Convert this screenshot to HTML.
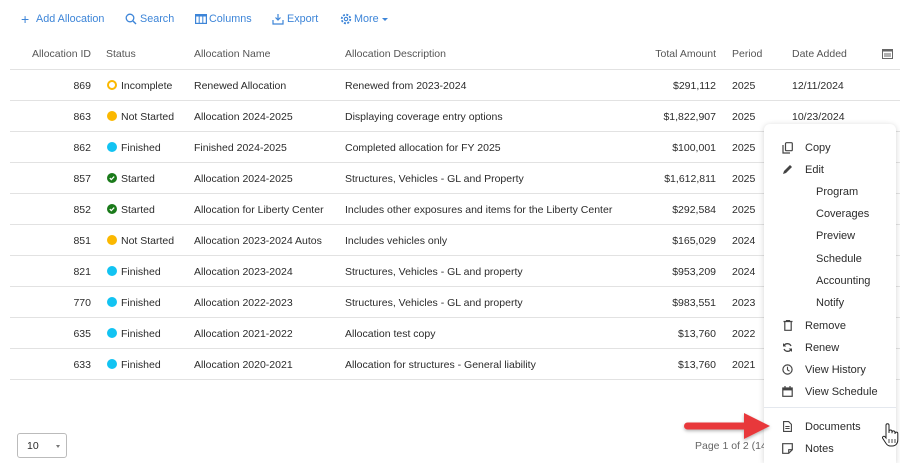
<!DOCTYPE html>
<html style="width:900px;height:463px;overflow:hidden"><head><meta charset="utf-8">
<style>
*{margin:0;padding:0;box-sizing:border-box}
body{width:900px;height:463px;background:#fff;font-family:"Liberation Sans",sans-serif;font-size:10.5px;color:#2b2b2b;position:relative;overflow:hidden}
.a{position:absolute;white-space:nowrap;line-height:14px}
.r{text-align:right}
.tb{color:#3d85d8;font-size:10.8px}
.hd{color:#555}
.line{position:absolute;left:10px;width:890px;height:1px;background:#e2e2e2}
.dot{position:absolute;width:10px;height:10px;border-radius:50%}
.menu{position:absolute;left:764px;top:124px;width:132px;height:339px;background:#fff;border-radius:6px 6px 0 0;box-shadow:0 1px 6px rgba(0,0,0,.18)}
.mi{position:absolute;font-size:11px;color:#2b2b2b;line-height:14px;white-space:nowrap}
</style></head><body>
<!-- toolbar -->
<div class="a tb" style="left:21px;top:12px;font-size:14px;line-height:14px">+</div>
<div class="a tb" style="left:36px;top:12px">Add Allocation</div>
<svg class="a" style="left:125px;top:13px" width="12" height="12"><circle cx="5" cy="5" r="3.8" fill="none" stroke="#3d85d8" stroke-width="1.3"/><line x1="8" y1="8" x2="11" y2="11" stroke="#3d85d8" stroke-width="1.4"/></svg>
<div class="a tb" style="left:140px;top:12px">Search</div>
<svg class="a" style="left:195px;top:14px" width="12" height="10"><rect x="0.6" y="0.6" width="10.8" height="8.8" fill="none" stroke="#3d85d8" stroke-width="1.2"/><rect x="0" y="0" width="12" height="2.5" fill="#3d85d8"/><line x1="4.2" y1="1" x2="4.2" y2="9" stroke="#3d85d8"/><line x1="7.8" y1="1" x2="7.8" y2="9" stroke="#3d85d8"/></svg>
<div class="a tb" style="left:209px;top:12px">Columns</div>
<svg class="a" style="left:272px;top:13px" width="12" height="12"><path d="M6 1v6M3.5 4.5L6 7l2.5-2.5" fill="none" stroke="#3d85d8" stroke-width="1.2"/><path d="M1 7v4h10V7" fill="none" stroke="#3d85d8" stroke-width="1.2"/></svg>
<div class="a tb" style="left:287px;top:12px">Export</div>
<svg class="a" style="left:340px;top:13px" width="12" height="12"><circle cx="6" cy="6" r="4.3" fill="none" stroke="#3d85d8" stroke-width="1.8" stroke-dasharray="2 1.4"/><circle cx="6" cy="6" r="1.7" fill="none" stroke="#3d85d8" stroke-width="1.1"/></svg>
<div class="a tb" style="left:354px;top:12px">More</div>
<div class="a" style="left:382px;top:18px;width:0;height:0;border-left:3px solid transparent;border-right:3px solid transparent;border-top:3px solid #3d85d8"></div>

<!-- header -->
<div class="a hd r" style="left:0;width:91px;top:47px">Allocation ID</div>
<div class="a hd" style="left:106px;top:47px">Status</div>
<div class="a hd" style="left:194px;top:47px">Allocation Name</div>
<div class="a hd" style="left:345px;top:47px">Allocation Description</div>
<div class="a hd r" style="left:600px;width:116px;top:47px">Total Amount</div>
<div class="a hd" style="left:732px;top:47px">Period</div>
<div class="a hd" style="left:792px;top:47px">Date Added</div>
<svg class="a" style="left:882px;top:49px" width="11" height="10"><rect x="0.5" y="0.5" width="10" height="9" fill="none" stroke="#666"/><rect x="0" y="0" width="11" height="2.5" fill="#666"/><line x1="2" y1="5" x2="9" y2="5" stroke="#666"/><line x1="2" y1="7" x2="9" y2="7" stroke="#666"/></svg>

<div class="line" style="top:69px"></div>
<div class="line" style="top:100px"></div>
<div class="line" style="top:131px"></div>
<div class="line" style="top:162px"></div>
<div class="line" style="top:193px"></div>
<div class="line" style="top:224px"></div>
<div class="line" style="top:255px"></div>
<div class="line" style="top:286px"></div>
<div class="line" style="top:317px"></div>
<div class="line" style="top:348px"></div>
<div class="line" style="top:379px"></div>

<!-- r1 -->
<div class="a r" style="left:0;width:91px;top:79px">869</div>
<div class="dot" style="left:107px;top:80px;border:2.5px solid #fbb800;background:#fff"></div>
<div class="a" style="left:121px;top:79px">Incomplete</div>
<div class="a" style="left:194px;top:79px">Renewed Allocation</div>
<div class="a" style="left:345px;top:79px">Renewed from 2023-2024</div>
<div class="a r" style="left:600px;width:116px;top:79px">$291,112</div>
<div class="a" style="left:732px;top:79px">2025</div>
<div class="a" style="left:792px;top:79px">12/11/2024</div>
<!-- r2 -->
<div class="a r" style="left:0;width:91px;top:110px">863</div>
<div class="dot" style="left:107px;top:111px;background:#fbb800"></div>
<div class="a" style="left:121px;top:110px">Not Started</div>
<div class="a" style="left:194px;top:110px">Allocation 2024-2025</div>
<div class="a" style="left:345px;top:110px">Displaying coverage entry options</div>
<div class="a r" style="left:600px;width:116px;top:110px">$1,822,907</div>
<div class="a" style="left:732px;top:110px">2025</div>
<div class="a" style="left:792px;top:110px">10/23/2024</div>
<!-- r3 -->
<div class="a r" style="left:0;width:91px;top:141px">862</div>
<div class="dot" style="left:107px;top:142px;background:#12c3f2"></div>
<div class="a" style="left:121px;top:141px">Finished</div>
<div class="a" style="left:194px;top:141px">Finished 2024-2025</div>
<div class="a" style="left:345px;top:141px">Completed allocation for FY 2025</div>
<div class="a r" style="left:600px;width:116px;top:141px">$100,001</div>
<div class="a" style="left:732px;top:141px">2025</div>
<!-- r4 -->
<div class="a r" style="left:0;width:91px;top:172px">857</div>
<svg class="a" style="left:107px;top:173px" width="10" height="10"><circle cx="5" cy="5" r="5" fill="#1a7a1a"/><path d="M2.8 5.1l1.5 1.5 2.9-3" fill="none" stroke="#fff" stroke-width="1.2"/></svg>
<div class="a" style="left:121px;top:172px">Started</div>
<div class="a" style="left:194px;top:172px">Allocation 2024-2025</div>
<div class="a" style="left:345px;top:172px">Structures, Vehicles - GL and Property</div>
<div class="a r" style="left:600px;width:116px;top:172px">$1,612,811</div>
<div class="a" style="left:732px;top:172px">2025</div>
<!-- r5 -->
<div class="a r" style="left:0;width:91px;top:203px">852</div>
<svg class="a" style="left:107px;top:204px" width="10" height="10"><circle cx="5" cy="5" r="5" fill="#1a7a1a"/><path d="M2.8 5.1l1.5 1.5 2.9-3" fill="none" stroke="#fff" stroke-width="1.2"/></svg>
<div class="a" style="left:121px;top:203px">Started</div>
<div class="a" style="left:194px;top:203px">Allocation for Liberty Center</div>
<div class="a" style="left:345px;top:203px">Includes other exposures and items for the Liberty Center</div>
<div class="a r" style="left:600px;width:116px;top:203px">$292,584</div>
<div class="a" style="left:732px;top:203px">2025</div>
<!-- r6 -->
<div class="a r" style="left:0;width:91px;top:234px">851</div>
<div class="dot" style="left:107px;top:235px;background:#fbb800"></div>
<div class="a" style="left:121px;top:234px">Not Started</div>
<div class="a" style="left:194px;top:234px">Allocation 2023-2024 Autos</div>
<div class="a" style="left:345px;top:234px">Includes vehicles only</div>
<div class="a r" style="left:600px;width:116px;top:234px">$165,029</div>
<div class="a" style="left:732px;top:234px">2024</div>
<!-- r7 -->
<div class="a r" style="left:0;width:91px;top:265px">821</div>
<div class="dot" style="left:107px;top:266px;background:#12c3f2"></div>
<div class="a" style="left:121px;top:265px">Finished</div>
<div class="a" style="left:194px;top:265px">Allocation 2023-2024</div>
<div class="a" style="left:345px;top:265px">Structures, Vehicles - GL and property</div>
<div class="a r" style="left:600px;width:116px;top:265px">$953,209</div>
<div class="a" style="left:732px;top:265px">2024</div>
<!-- r8 -->
<div class="a r" style="left:0;width:91px;top:296px">770</div>
<div class="dot" style="left:107px;top:297px;background:#12c3f2"></div>
<div class="a" style="left:121px;top:296px">Finished</div>
<div class="a" style="left:194px;top:296px">Allocation 2022-2023</div>
<div class="a" style="left:345px;top:296px">Structures, Vehicles - GL and property</div>
<div class="a r" style="left:600px;width:116px;top:296px">$983,551</div>
<div class="a" style="left:732px;top:296px">2023</div>
<!-- r9 -->
<div class="a r" style="left:0;width:91px;top:327px">635</div>
<div class="dot" style="left:107px;top:328px;background:#12c3f2"></div>
<div class="a" style="left:121px;top:327px">Finished</div>
<div class="a" style="left:194px;top:327px">Allocation 2021-2022</div>
<div class="a" style="left:345px;top:327px">Allocation test copy</div>
<div class="a r" style="left:600px;width:116px;top:327px">$13,760</div>
<div class="a" style="left:732px;top:327px">2022</div>
<!-- r10 -->
<div class="a r" style="left:0;width:91px;top:358px">633</div>
<div class="dot" style="left:107px;top:359px;background:#12c3f2"></div>
<div class="a" style="left:121px;top:358px">Finished</div>
<div class="a" style="left:194px;top:358px">Allocation 2020-2021</div>
<div class="a" style="left:345px;top:358px">Allocation for structures - General liability</div>
<div class="a r" style="left:600px;width:116px;top:358px">$13,760</div>
<div class="a" style="left:732px;top:358px">2021</div>

<!-- footer -->
<div class="a" style="left:17px;top:433px;width:50px;height:25px;border:1px solid #bbb;border-radius:3px"></div>
<div class="a" style="left:27px;top:439px">10</div>
<div class="a" style="left:56px;top:445px;width:0;height:0;border-left:2.5px solid transparent;border-right:2.5px solid transparent;border-top:3px solid #777"></div>
<div class="a" style="left:695px;top:439px;color:#666">Page 1 of 2 (14</div>

<!-- menu -->
<div class="menu">
<svg class="a" style="left:18px;top:18px" width="11" height="12"><rect x="3.5" y="0.7" width="6.8" height="8" rx="1" fill="none" stroke="#444" stroke-width="1.2"/><path d="M1 3v8h7" fill="none" stroke="#444" stroke-width="1.2"/></svg>
<div class="mi" style="left:41px;top:17px">Copy</div>
<svg class="a" style="left:18px;top:40px" width="11" height="11"><path d="M1 10l1-3 6-6 2 2-6 6z" fill="#444"/></svg>
<div class="mi" style="left:41px;top:39px">Edit</div>
<div class="mi" style="left:52px;top:61px">Program</div>
<div class="mi" style="left:52px;top:83px">Coverages</div>
<div class="mi" style="left:52px;top:105px">Preview</div>
<div class="mi" style="left:52px;top:128px">Schedule</div>
<div class="mi" style="left:52px;top:150px">Accounting</div>
<div class="mi" style="left:52px;top:172px">Notify</div>
<svg class="a" style="left:19px;top:196px" width="10" height="11"><path d="M0.5 1.5h9M3.5 1.5V0.6h3v0.9M1.8 2v8.3h6.4V2" fill="none" stroke="#444" stroke-width="1.2"/></svg>
<div class="mi" style="left:41px;top:195px">Remove</div>
<svg class="a" style="left:18px;top:218px" width="11" height="11"><path d="M9 4A4 4 0 0 0 2 3.5M2 7a4 4 0 0 0 7 .5" fill="none" stroke="#444" stroke-width="1.3"/><path d="M1 1v3.5h3.3z M10 10V6.5H6.7z" fill="#444"/></svg>
<div class="mi" style="left:41px;top:217px">Renew</div>
<svg class="a" style="left:18px;top:240px" width="11" height="11"><circle cx="5.5" cy="5.5" r="4.6" fill="none" stroke="#444" stroke-width="1.2"/><path d="M5.5 2.8v3l2 1.4" fill="none" stroke="#444" stroke-width="1.1"/></svg>
<div class="mi" style="left:41px;top:239px">View History</div>
<svg class="a" style="left:18px;top:262px" width="11" height="11"><rect x="0.8" y="2" width="9.4" height="8.3" fill="none" stroke="#444" stroke-width="1.2"/><rect x="0.8" y="2" width="9.4" height="2.4" fill="#444"/><path d="M3 0v2.5M8 0v2.5" stroke="#444" stroke-width="1.2"/></svg>
<div class="mi" style="left:41px;top:261px">View Schedule</div>
<div class="a" style="left:0;top:283px;width:132px;height:1px;background:#e4e8ee"></div>
<svg class="a" style="left:19px;top:297px" width="9" height="11"><path d="M0.6 0.6h5l2.8 2.8v7H0.6z" fill="none" stroke="#444" stroke-width="1.1"/><path d="M2.3 5.5h4.3M2.3 7.5h4.3" stroke="#444" stroke-width="0.9"/></svg>
<div class="mi" style="left:41px;top:296px">Documents</div>
<svg class="a" style="left:18px;top:319px" width="11" height="11"><path d="M0.7 0.7h9.6v6l-3.6 3.6h-6z" fill="none" stroke="#444" stroke-width="1.2"/><path d="M6.7 10.3V6.7h3.6" fill="none" stroke="#444" stroke-width="1.1"/></svg>
<div class="mi" style="left:41px;top:318px">Notes</div>
</div>

<!-- arrow (drawn above menu) -->
<svg class="a" style="left:680px;top:408px;overflow:visible" width="95" height="36">
<defs><filter id="s" x="-20%" y="-40%" width="140%" height="180%"><feDropShadow dx="0" dy="1.5" stdDeviation="1.5" flood-color="#000" flood-opacity=".3"/></filter></defs>
<g filter="url(#s)"><rect x="4" y="14.5" width="64" height="7" rx="3.5" fill="#e8383a"/><path d="M64 5 L90 18 L64 31 Z" fill="#e8383a"/></g>
</svg>

<!-- hand cursor -->
<svg class="a" style="left:881px;top:422px" width="18" height="26"><path d="M5 13V3.2a1.5 1.5 0 0 1 3 0V11V9.5a1.5 1.5 0 0 1 3 0V11.3V10.4a1.5 1.5 0 0 1 3 0V12V11.5a1.4 1.4 0 0 1 2.8 0V18c0 3.5-2.2 6-5.5 6H9.3c-2 0-3.2-1-4.3-2.6L1.6 16.2a1.4 1.4 0 0 1 2.3-1.5L5 16z" fill="#fff" stroke="#222" stroke-width="1"/><path d="M8 17v4M11 17v4M14 17v4" stroke="#222" stroke-width="0.8"/></svg>
</body></html>
